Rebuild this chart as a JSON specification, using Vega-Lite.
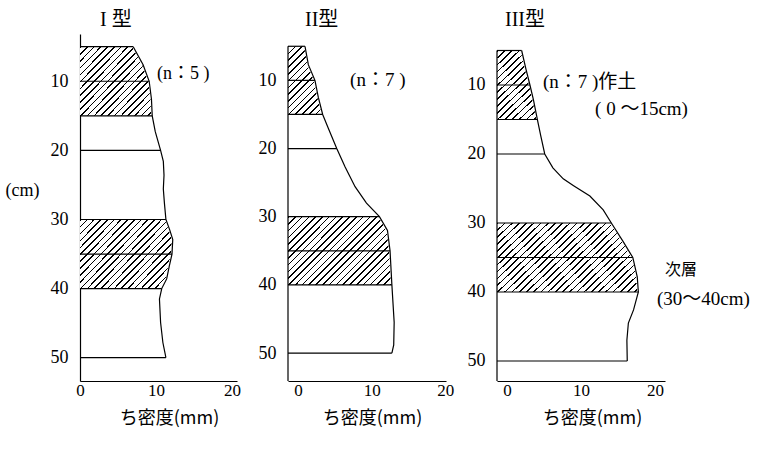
{
  "$schema": "https://vega.github.io/schema/vega-lite/v6.json",
  "background": "white",
  "padding": {"left": 5, "top": 10, "right": 2, "bottom": 2},
  "autosize": {"type": "pad"},
  "bounds": "flush",
  "spacing": 51,
  "datasets": {
    "bands": [{"top": 5, "bottom": 15}, {"top": 30, "bottom": 40}],
    "p1": [
      {"depth": 5, "density": 7.0}, {"depth": 7.6, "density": 8.3}, {"depth": 10, "density": 9.1},
      {"depth": 12.6, "density": 9.4}, {"depth": 15, "density": 9.5}, {"depth": 17.3, "density": 9.9},
      {"depth": 20, "density": 10.6}, {"depth": 21.6, "density": 10.96}, {"depth": 23.6, "density": 11.05},
      {"depth": 25.6, "density": 10.96}, {"depth": 27.6, "density": 11.1}, {"depth": 30, "density": 11.3},
      {"depth": 31.5, "density": 11.8}, {"depth": 32.9, "density": 12.2}, {"depth": 35, "density": 12.1},
      {"depth": 36.7, "density": 11.75}, {"depth": 38.6, "density": 11.4}, {"depth": 40, "density": 10.75},
      {"depth": 41.5, "density": 10.45}, {"depth": 44.9, "density": 10.6}, {"depth": 47.8, "density": 10.9},
      {"depth": 50, "density": 11.3}
    ],
    "p2": [
      {"depth": 5, "density": 0.95}, {"depth": 7.7, "density": 1.4}, {"depth": 10, "density": 2.3},
      {"depth": 12.5, "density": 2.76}, {"depth": 15, "density": 3.35}, {"depth": 17, "density": 4.1},
      {"depth": 20, "density": 5.26}, {"depth": 22.7, "density": 6.4}, {"depth": 25.6, "density": 7.75},
      {"depth": 28, "density": 9.3}, {"depth": 30, "density": 11.06}, {"depth": 32, "density": 12.15},
      {"depth": 35, "density": 12.5}, {"depth": 40, "density": 12.75}, {"depth": 45.5, "density": 13.06},
      {"depth": 48.8, "density": 13.0}, {"depth": 50, "density": 12.75}
    ],
    "p3": [
      {"depth": 5, "density": 1.98}, {"depth": 7.75, "density": 2.57}, {"depth": 10, "density": 3.1},
      {"depth": 12.1, "density": 3.56}, {"depth": 15, "density": 4.1}, {"depth": 17.3, "density": 4.55},
      {"depth": 20, "density": 5.1}, {"depth": 22, "density": 6.2}, {"depth": 23.6, "density": 7.6},
      {"depth": 24.6, "density": 9.0}, {"depth": 26.1, "density": 11.2}, {"depth": 28.1, "density": 13.0},
      {"depth": 30, "density": 14.1}, {"depth": 32.7, "density": 15.7}, {"depth": 35, "density": 17.0},
      {"depth": 37.8, "density": 17.6}, {"depth": 40, "density": 17.75}, {"depth": 42.6, "density": 17.1},
      {"depth": 44.5, "density": 16.4}, {"depth": 47, "density": 16.2}, {"depth": 50, "density": 16.25}
    ]
  },
  "hconcat": [
    {
      "width": 157, "height": 347,
      "title": {"text": "I 型", "dx": 20},
      "layer": [
        {"data": {"name": "bands"}, "mark": {"type": "rect"},
         "encoding": {
           "y": {"field": "top", "type": "quantitative", "scale": {"domain": [3.16, 53.37], "reverse": true, "nice": false, "zero": false},
                 "axis": {"values": [10, 20, 30, 40, 50], "title": "(cm)", "titleAngle": 0, "titleX": -75, "titleY": 156, "titleAlign": "left", "titleBaseline": "middle", "titleFont": "Liberation Serif", "titleFontSize": 18}},
           "y2": {"field": "bottom"},
           "x": {"datum": 0, "type": "quantitative", "scale": {"domain": [0, 20.65], "nice": false, "zero": false},
                 "axis": {"values": [0, 10, 20], "title": "ち密度(mm)", "titleX": 89}},
           "x2": {"datum": 20.65}}},
        {"data": {"name": "p1"}, "mark": {"type": "area", "orient": "horizontal", "fill": "white", "stroke": "white", "strokeWidth": 2},
         "encoding": {"x": {"field": "density", "type": "quantitative"}, "x2": {"datum": 20.65}, "y": {"field": "depth", "type": "quantitative"}}},
        {"data": {"name": "p1"}, "mark": {"type": "line", "color": "black", "strokeWidth": 1.2},
         "encoding": {"x": {"field": "density", "type": "quantitative"}, "y": {"field": "depth", "type": "quantitative"}, "order": {"field": "depth", "type": "quantitative"}}},
        {"data": {"name": "p1"}, "transform": [{"filter": {"field": "depth", "oneOf": [5, 10, 15, 20, 30, 35, 40, 50]}}],
         "mark": {"type": "rule", "color": "black", "strokeWidth": 1.2},
         "encoding": {"x": {"field": "density", "type": "quantitative"}, "x2": {"datum": 0}, "y": {"field": "depth", "type": "quantitative"}}},
        {"data": {"values": [{}]}, "mark": {"type": "text", "text": "(n：5 )", "align": "left", "baseline": "middle", "fontSize": 18, "font": "Liberation Serif, Noto Sans CJK JP", "color": "black"},
         "encoding": {"x": {"datum": 10.13, "type": "quantitative"}, "y": {"datum": 8.95, "type": "quantitative"}}}
      ]
    },
    {
      "width": 158, "height": 347,
      "title": {"text": "II型", "dx": 17},
      "layer": [
        {"data": {"name": "bands"}, "mark": {"type": "rect"},
         "encoding": {
           "y": {"field": "top", "type": "quantitative", "scale": {"domain": [3.2, 54.1], "reverse": true, "nice": false, "zero": false},
                 "axis": {"values": [10, 20, 30, 40, 50], "title": null, "domain": false}},
           "y2": {"field": "bottom"},
           "x": {"datum": -1.36, "type": "quantitative", "scale": {"domain": [-1.36, 20.1], "nice": false, "zero": false},
                 "axis": {"values": [0, 10, 20], "title": "ち密度(mm)", "titleX": 84}},
           "x2": {"datum": 20.1}}},
        {"data": {"name": "p2"}, "mark": {"type": "area", "orient": "horizontal", "fill": "white", "stroke": "white", "strokeWidth": 2},
         "encoding": {"x": {"field": "density", "type": "quantitative"}, "x2": {"datum": 20.1}, "y": {"field": "depth", "type": "quantitative"}}},
        {"data": {"name": "p2"}, "mark": {"type": "line", "color": "black", "strokeWidth": 1.2},
         "encoding": {"x": {"field": "density", "type": "quantitative"}, "y": {"field": "depth", "type": "quantitative"}, "order": {"field": "depth", "type": "quantitative"}}},
        {"data": {"name": "p2"}, "transform": [{"filter": {"field": "depth", "oneOf": [5, 10, 15, 20, 30, 35, 40, 50]}}],
         "mark": {"type": "rule", "color": "black", "strokeWidth": 1.2},
         "encoding": {"x": {"field": "density", "type": "quantitative"}, "x2": {"datum": -1.36}, "y": {"field": "depth", "type": "quantitative"}}},
        {"data": {"values": [{}]}, "mark": {"type": "rule", "color": "black", "strokeWidth": 1.2},
         "encoding": {"x": {"datum": -1.36, "type": "quantitative"}, "y": {"datum": 5, "type": "quantitative"}, "y2": {"datum": 54.1}}},
        {"data": {"values": [{}]}, "mark": {"type": "text", "text": "(n：7 )", "align": "left", "baseline": "middle", "fontSize": 19, "font": "Liberation Serif, Noto Sans CJK JP", "color": "black"},
         "encoding": {"x": {"datum": 7.07, "type": "quantitative"}, "y": {"datum": 9.95, "type": "quantitative"}}}
      ]
    },
    {
      "width": 168, "height": 347,
      "title": {"text": "III型", "dx": 8},
      "layer": [
        {"data": {"name": "bands"}, "mark": {"type": "rect"},
         "encoding": {
           "y": {"field": "top", "type": "quantitative", "scale": {"domain": [2.61, 52.9], "reverse": true, "nice": false, "zero": false},
                 "axis": {"values": [10, 20, 30, 40, 50], "title": null, "domain": false}},
           "y2": {"field": "bottom"},
           "x": {"datum": -1.35, "type": "quantitative", "scale": {"domain": [-1.35, 21.35], "nice": false, "zero": false},
                 "axis": {"values": [0, 10, 20], "title": "ち密度(mm)", "titleX": 95}},
           "x2": {"datum": 21.35}}},
        {"data": {"name": "p3"}, "mark": {"type": "area", "orient": "horizontal", "fill": "white", "stroke": "white", "strokeWidth": 2},
         "encoding": {"x": {"field": "density", "type": "quantitative"}, "x2": {"datum": 21.35}, "y": {"field": "depth", "type": "quantitative"}}},
        {"data": {"name": "p3"}, "mark": {"type": "line", "color": "black", "strokeWidth": 1.2},
         "encoding": {"x": {"field": "density", "type": "quantitative"}, "y": {"field": "depth", "type": "quantitative"}, "order": {"field": "depth", "type": "quantitative"}}},
        {"data": {"name": "p3"}, "transform": [{"filter": {"field": "depth", "oneOf": [5, 10, 15, 20, 30, 35, 40, 50]}}],
         "mark": {"type": "rule", "color": "black", "strokeWidth": 1.2},
         "encoding": {"x": {"field": "density", "type": "quantitative"}, "x2": {"datum": -1.35}, "y": {"field": "depth", "type": "quantitative"}}},
        {"data": {"values": [{}]}, "mark": {"type": "rule", "color": "black", "strokeWidth": 1.2},
         "encoding": {"x": {"datum": -1.35, "type": "quantitative"}, "y": {"datum": 5, "type": "quantitative"}, "y2": {"datum": 52.9}}},
        {"data": {"values": [{}]}, "mark": {"type": "text", "text": "(n：7 )作土", "align": "left", "baseline": "middle", "fontSize": 19, "font": "Liberation Serif, Noto Sans CJK JP", "color": "black"},
         "encoding": {"x": {"datum": 4.86, "type": "quantitative"}, "y": {"datum": 9.57, "type": "quantitative"}}},
        {"data": {"values": [{}]}, "mark": {"type": "text", "text": "( 0 ～15cm)", "align": "left", "baseline": "middle", "fontSize": 19, "font": "Liberation Serif, Noto Sans CJK JP", "color": "black"},
         "encoding": {"x": {"datum": 11.9, "type": "quantitative"}, "y": {"datum": 13.5, "type": "quantitative"}}},
        {"data": {"values": [{}]}, "mark": {"type": "text", "text": "次層", "align": "left", "baseline": "middle", "fontSize": 16, "font": "Liberation Serif, Noto Sans CJK JP", "color": "black"},
         "encoding": {"x": {"datum": 21.35, "type": "quantitative"}, "y": {"datum": 36.8, "type": "quantitative"}}},
        {"data": {"values": [{}]}, "mark": {"type": "text", "text": "(30～40cm)", "align": "left", "baseline": "middle", "fontSize": 19, "font": "Liberation Serif, Noto Sans CJK JP", "color": "black"},
         "encoding": {"x": {"datum": 20.27, "type": "quantitative"}, "y": {"datum": 41.0, "type": "quantitative"}}}
      ]
    }
  ],
  "config": {
    "view": {"stroke": null},
    "title": {"anchor": "start", "frame": "group", "offset": 4, "font": "Liberation Serif, Noto Sans CJK JP", "fontSize": 20, "fontWeight": "normal", "color": "black"},
    "axis": {"ticks": false, "grid": false, "domainColor": "black", "domainWidth": 1.2, "labelColor": "black", "labelFont": "Liberation Serif", "labelFontSize": 18, "labelFlush": false, "labelOverlap": false, "titleColor": "black", "titleFontWeight": "normal", "zindex": 1},
    "axisX": {"labelPadding": 1, "labelFontSize": 17, "titleFont": "Noto Sans CJK JP", "titleFontSize": 18, "titleBaseline": "top", "titleAlign": "center", "titleY": 28},
    "axisY": {"labelPadding": 12},
    "rect": {"fill": {"gradient": "linear", "x1": 0, "y1": 0, "x2": 1.207, "y2": 0.52, "stops": [
      {"offset": 0, "color": "#000"}, {"offset": 0.007, "color": "#000"}, {"offset": 0.007, "color": "#fff"}, {"offset": 0.03, "color": "#fff"},
      {"offset": 0.03, "color": "#000"}, {"offset": 0.037, "color": "#000"}, {"offset": 0.037, "color": "#fff"}, {"offset": 0.06, "color": "#fff"},
      {"offset": 0.06, "color": "#000"}, {"offset": 0.067, "color": "#000"}, {"offset": 0.067, "color": "#fff"}, {"offset": 0.09, "color": "#fff"},
      {"offset": 0.09, "color": "#000"}, {"offset": 0.097, "color": "#000"}, {"offset": 0.097, "color": "#fff"}, {"offset": 0.12, "color": "#fff"},
      {"offset": 0.12, "color": "#000"}, {"offset": 0.127, "color": "#000"}, {"offset": 0.127, "color": "#fff"}, {"offset": 0.15, "color": "#fff"},
      {"offset": 0.15, "color": "#000"}, {"offset": 0.157, "color": "#000"}, {"offset": 0.157, "color": "#fff"}, {"offset": 0.18, "color": "#fff"},
      {"offset": 0.18, "color": "#000"}, {"offset": 0.187, "color": "#000"}, {"offset": 0.187, "color": "#fff"}, {"offset": 0.21, "color": "#fff"},
      {"offset": 0.21, "color": "#000"}, {"offset": 0.217, "color": "#000"}, {"offset": 0.217, "color": "#fff"}, {"offset": 0.24, "color": "#fff"},
      {"offset": 0.24, "color": "#000"}, {"offset": 0.247, "color": "#000"}, {"offset": 0.247, "color": "#fff"}, {"offset": 0.27, "color": "#fff"},
      {"offset": 0.27, "color": "#000"}, {"offset": 0.277, "color": "#000"}, {"offset": 0.277, "color": "#fff"}, {"offset": 0.3, "color": "#fff"},
      {"offset": 0.3, "color": "#000"}, {"offset": 0.307, "color": "#000"}, {"offset": 0.307, "color": "#fff"}, {"offset": 0.33, "color": "#fff"},
      {"offset": 0.33, "color": "#000"}, {"offset": 0.337, "color": "#000"}, {"offset": 0.337, "color": "#fff"}, {"offset": 0.36, "color": "#fff"},
      {"offset": 0.36, "color": "#000"}, {"offset": 0.367, "color": "#000"}, {"offset": 0.367, "color": "#fff"}, {"offset": 0.39, "color": "#fff"},
      {"offset": 0.39, "color": "#000"}, {"offset": 0.397, "color": "#000"}, {"offset": 0.397, "color": "#fff"}, {"offset": 0.42, "color": "#fff"},
      {"offset": 0.42, "color": "#000"}, {"offset": 0.427, "color": "#000"}, {"offset": 0.427, "color": "#fff"}, {"offset": 0.45, "color": "#fff"},
      {"offset": 0.45, "color": "#000"}, {"offset": 0.457, "color": "#000"}, {"offset": 0.457, "color": "#fff"}, {"offset": 0.48, "color": "#fff"},
      {"offset": 0.48, "color": "#000"}, {"offset": 0.487, "color": "#000"}, {"offset": 0.487, "color": "#fff"}, {"offset": 0.51, "color": "#fff"},
      {"offset": 0.51, "color": "#000"}, {"offset": 0.517, "color": "#000"}, {"offset": 0.517, "color": "#fff"}, {"offset": 0.54, "color": "#fff"},
      {"offset": 0.54, "color": "#000"}, {"offset": 0.547, "color": "#000"}, {"offset": 0.547, "color": "#fff"}, {"offset": 0.57, "color": "#fff"},
      {"offset": 0.57, "color": "#000"}, {"offset": 0.577, "color": "#000"}, {"offset": 0.577, "color": "#fff"}, {"offset": 0.6, "color": "#fff"},
      {"offset": 0.6, "color": "#000"}, {"offset": 0.607, "color": "#000"}, {"offset": 0.607, "color": "#fff"}, {"offset": 0.63, "color": "#fff"},
      {"offset": 0.63, "color": "#000"}, {"offset": 0.637, "color": "#000"}, {"offset": 0.637, "color": "#fff"}, {"offset": 0.66, "color": "#fff"},
      {"offset": 0.66, "color": "#000"}, {"offset": 0.667, "color": "#000"}, {"offset": 0.667, "color": "#fff"}, {"offset": 0.69, "color": "#fff"},
      {"offset": 0.69, "color": "#000"}, {"offset": 0.697, "color": "#000"}, {"offset": 0.697, "color": "#fff"}, {"offset": 0.72, "color": "#fff"},
      {"offset": 0.72, "color": "#000"}, {"offset": 0.727, "color": "#000"}, {"offset": 0.727, "color": "#fff"}, {"offset": 0.75, "color": "#fff"},
      {"offset": 0.75, "color": "#000"}, {"offset": 0.757, "color": "#000"}, {"offset": 0.757, "color": "#fff"}, {"offset": 0.78, "color": "#fff"},
      {"offset": 0.78, "color": "#000"}, {"offset": 0.787, "color": "#000"}, {"offset": 0.787, "color": "#fff"}, {"offset": 0.81, "color": "#fff"},
      {"offset": 0.81, "color": "#000"}, {"offset": 0.817, "color": "#000"}, {"offset": 0.817, "color": "#fff"}, {"offset": 0.84, "color": "#fff"},
      {"offset": 0.84, "color": "#000"}, {"offset": 0.847, "color": "#000"}, {"offset": 0.847, "color": "#fff"}, {"offset": 0.87, "color": "#fff"},
      {"offset": 0.87, "color": "#000"}, {"offset": 0.877, "color": "#000"}, {"offset": 0.877, "color": "#fff"}, {"offset": 0.9, "color": "#fff"},
      {"offset": 0.9, "color": "#000"}, {"offset": 0.907, "color": "#000"}, {"offset": 0.907, "color": "#fff"}, {"offset": 0.93, "color": "#fff"},
      {"offset": 0.93, "color": "#000"}, {"offset": 0.937, "color": "#000"}, {"offset": 0.937, "color": "#fff"}, {"offset": 0.96, "color": "#fff"},
      {"offset": 0.96, "color": "#000"}, {"offset": 0.967, "color": "#000"}, {"offset": 0.967, "color": "#fff"}, {"offset": 0.99, "color": "#fff"},
      {"offset": 0.99, "color": "#000"}, {"offset": 0.997, "color": "#000"}, {"offset": 0.997, "color": "#fff"}, {"offset": 1, "color": "#fff"}
    ]}}
  }
}
